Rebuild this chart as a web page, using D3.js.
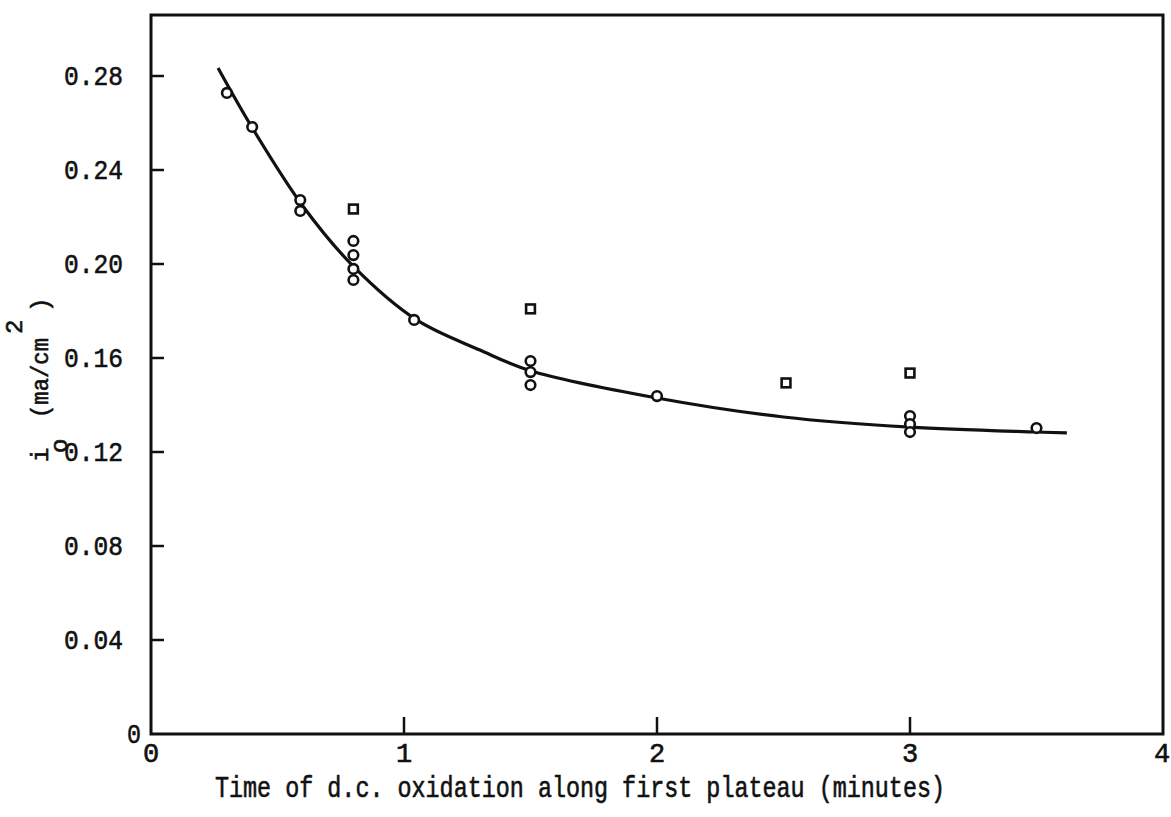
<!DOCTYPE html>
<html>
<head>
<meta charset="utf-8">
<script src="https://cdn.jsdelivr.net/npm/d3@7"></script>
<style>
  body { margin: 0; background: #fff; }
  svg text { font-family: "Liberation Mono", "DejaVu Sans Mono", monospace; fill: #111; stroke: #111; stroke-width: 0.6px; }
</style>
</head>
<body>
<svg id="chart" width="1171" height="817"></svg>
<script>
// circles (open) - main series
const circleX = [0.30, 0.40, 0.59, 0.59, 0.80, 0.80, 0.80, 0.80, 1.04, 1.50, 1.50, 1.50, 2.00, 3.00, 3.00, 3.00, 3.50];
const circleY = [0.2728, 0.2583, 0.2272, 0.2226, 0.2098, 0.2038, 0.1979, 0.1932, 0.1762, 0.1587, 0.1540, 0.1485, 0.1438, 0.1353, 0.1319, 0.1285, 0.1302];

// squares (open)
const squareX = [0.80, 1.50, 2.51, 3.00];
const squareY = [0.2234, 0.1809, 0.1494, 0.1536];

// hand drawn fitted curve
const curveX = [0.265, 0.40, 0.60, 0.80, 1.05, 1.30, 1.50, 2.00, 2.50, 3.00, 3.50, 3.62];
const curveY = [0.2834, 0.2580, 0.2247, 0.1990, 0.1762, 0.1634, 0.1546, 0.1430, 0.1349, 0.1306, 0.1285, 0.1281];

const xTicks = [0, 1, 2, 3, 4];
const yTicks = [0, 0.04, 0.08, 0.12, 0.16, 0.20, 0.24, 0.28];

const svg = d3.select('#chart');
const padLeft = 151, padRight = 1163, padTop = 15, padBottom = 734;

const x = d3.scaleLinear().domain([0, 4]).range([padLeft, padRight]);
const y = d3.scaleLinear().domain([0, 0.28]).range([padBottom, 76]);

// frame
svg.append('rect')
    .attr('x', padLeft).attr('y', padTop)
    .attr('width', padRight - padLeft).attr('height', padBottom - padTop)
    .attr('fill', 'none')
    .attr('stroke', '#111')
    .attr('stroke-width', 3);

// y ticks point inward
svg.selectAll('.ytick')
    .data(yTicks.filter(d => d > 0))
    .join('line')
    .attr('x1', padLeft).attr('x2', padLeft + 13)
    .attr('y1', d => y(d)).attr('y2', d => y(d))
    .attr('stroke', '#111').attr('stroke-width', 2.5);

svg.selectAll('.ylab')
    .data(yTicks)
    .join('text')
    .attr('x', d => d === 0 ? 141 : 123)
    .attr('y', d => y(d) + 9)
    .attr('text-anchor', 'end')
    .style('font-size', '28px')
    .attr('textLength', d => d === 0 ? 14 : 59)
    .attr('lengthAdjust', 'spacingAndGlyphs')
    .text(d => d === 0 ? '0' : d3.format('.2f')(d));

// x ticks point upward
svg.selectAll('.xtick')
    .data(xTicks.filter(d => d > 0 && d < 4))
    .join('line')
    .attr('x1', d => x(d)).attr('x2', d => x(d))
    .attr('y1', padBottom).attr('y2', padBottom - 17)
    .attr('stroke', '#111').attr('stroke-width', 2.5);

svg.selectAll('.xlab')
    .data(xTicks)
    .join('text')
    .attr('x', d => d === 4 ? x(d) - 1 : x(d))
    .attr('y', 762)
    .attr('text-anchor', 'middle')
    .style('font-size', '27px')
    .text(d => d);

// x title
svg.append('text')
    .attr('x', 215).attr('y', 797)
    .style('font-size', '29px')
    .attr('textLength', 730)
    .attr('lengthAdjust', 'spacingAndGlyphs')
    .text('Time of d.c. oxidation along first plateau (minutes)');

// y title, rotated
const yt = svg.append('g').attr('transform', 'translate(48,0) rotate(-90)');
yt.append('text').attr('x', -462).attr('y', 0).style('font-size', '24px').text('i');
yt.append('text').attr('x', -453).attr('y', 19).style('font-size', '24px').text('o');
yt.append('text').attr('x', -418).attr('y', 0).style('font-size', '24px')
    .attr('textLength', 80).attr('lengthAdjust', 'spacingAndGlyphs').text('(ma/cm');
yt.append('text').attr('x', -334).attr('y', -26).style('font-size', '24px').text('2');
yt.append('text').attr('x', -312).attr('y', 0).style('font-size', '24px').text(')');

// curve
const line = d3.line()
    .x((d, i) => x(curveX[i]))
    .y(d => y(d))
    .curve(d3.curveCatmullRom);

svg.append('path')
    .datum(curveY)
    .attr('d', line)
    .attr('fill', 'none')
    .attr('stroke', '#111')
    .attr('stroke-width', 3.2);

// circles
svg.selectAll('.pt')
    .data(circleY)
    .join('circle')
    .attr('cx', (d, i) => x(circleX[i]))
    .attr('cy', d => y(d))
    .attr('r', 4.8)
    .attr('fill', '#fff')
    .attr('stroke', '#111')
    .attr('stroke-width', 2.6);

// squares
svg.selectAll('.sq')
    .data(squareY)
    .join('rect')
    .attr('x', (d, i) => x(squareX[i]) - 4.4)
    .attr('y', d => y(d) - 4.4)
    .attr('width', 8.8).attr('height', 8.8)
    .attr('fill', '#fff')
    .attr('stroke', '#111')
    .attr('stroke-width', 2.6);
</script>
</body>
</html>
